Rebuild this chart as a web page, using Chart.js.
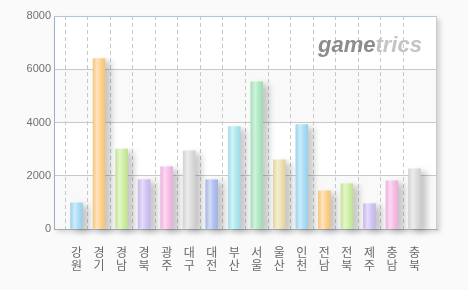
<!DOCTYPE html>
<html>
<head>
<meta charset="utf-8">
<script src="https://cdn.jsdelivr.net/npm/chart.js@4"></script>
<style>
	html, body { margin: 0; padding: 0; background: #fafafa; }
	#wrap { width: 468px; height: 290px; }
</style>
</head>
<body>
<div id="wrap"><canvas id="chart" width="468" height="290"></canvas></div>
<script>
// regions (labels are stacked one syllable per line)
var regions = ['강원', '경기', '경남', '경북', '광주', '대구', '대전', '부산', '서울', '울산', '인천', '전남', '전북', '제주', '충남', '충북'];
var values = [980, 6400, 3000, 1850, 2340, 2940, 1850, 3850, 5530, 2600, 3920, 1430, 1700, 950, 1810, 2260];
var yTicks = [0, 2000, 4000, 6000, 8000];

var palette = ['#a6dcf6', '#ffcf88', '#cdeea0', '#d2c2f6', '#f6bce6', '#dcdcdc', '#aebff0', '#ace8f0', '#ace8c2', '#eedfaa'];

// one empty slot each side gives the full-category margin of the original
var labels = [''].concat(regions, ['']);
var data = [null].concat(values, [null]);

function mix(hex, target, amt) {
	var n = parseInt(hex.slice(1), 16);
	var r = (n >> 16) & 255, g = (n >> 8) & 255, b = n & 255;
	r = Math.round(r + (target - r) * amt);
	g = Math.round(g + (target - g) * amt);
	b = Math.round(b + (target - b) * amt);
	return 'rgb(' + r + ',' + g + ',' + b + ')';
}

function barFill(ctx) {
	var chart = ctx.chart;
	var base = palette[(ctx.dataIndex - 1 + 10) % 10];
	if (!chart.chartArea) return base;
	var x = chart.scales.x.getPixelForValue(ctx.dataIndex);
	var g = chart.ctx.createLinearGradient(x - 6, 0, x + 6, 0);
	g.addColorStop(0, mix(base, 0, 0.04));
	g.addColorStop(0.35, mix(base, 255, 0.45));
	g.addColorStop(0.7, base);
	g.addColorStop(1, mix(base, 0, 0.06));
	return g;
}

var plotFrame = {
	id: 'plotFrame',
	beforeDraw: function(chart) {
		var c = chart.ctx, a = chart.chartArea, y = chart.scales.y;
		c.save();
		c.shadowColor = 'rgba(0,0,0,0.16)';
		c.shadowBlur = 5;
		c.shadowOffsetX = 3;
		c.shadowOffsetY = 3;
		c.fillStyle = '#ffffff';
		c.fillRect(a.left, a.top, a.right - a.left, a.bottom - a.top);
		c.restore();
		// alternating bands
		c.save();
		c.fillStyle = '#f9f9f9';
		for (var i = 0; i < yTicks.length - 1; i += 2) {
			var t = y.getPixelForValue(yTicks[i + 1]);
			var b = y.getPixelForValue(yTicks[i]);
			c.fillRect(a.left, t, a.right - a.left, b - t);
		}
		c.restore();
	},
	beforeDatasetsDraw: function(chart) {
		var c = chart.ctx;
		c.save();
		c.shadowColor = 'rgba(0,0,0,0.2)';
		c.shadowBlur = 6;
		c.shadowOffsetX = 6;
		c.shadowOffsetY = 3;
	},
	afterDatasetsDraw: function(chart) {
		chart.ctx.restore();
	},
	afterDraw: function(chart) {
		var c = chart.ctx, a = chart.chartArea;
		c.save();
		c.lineWidth = 1;
		c.strokeStyle = '#b4c8dc';
		c.beginPath();
		c.moveTo(a.left, a.top + 0.5);
		c.lineTo(a.right, a.top + 0.5);
		c.stroke();
		c.strokeStyle = '#c4ccd6';
		c.beginPath();
		c.moveTo(a.right - 0.5, a.top);
		c.lineTo(a.right - 0.5, a.bottom);
		c.stroke();
		// watermark
		c.font = 'italic bold 22px "Liberation Sans", Arial, sans-serif';
		c.textBaseline = 'alphabetic';
		c.fillStyle = '#8c8c8c';
		c.fillText('game', 318, 52);
		var w = c.measureText('game').width;
		c.fillStyle = '#c4c4c4';
		c.fillText('trics', 318 + w, 52);
		c.restore();
	}
};

new Chart(document.getElementById('chart'), {
	type: 'bar',
	data: {
		labels: labels,
		datasets: [{
			data: data,
			backgroundColor: barFill,
			borderWidth: 0,
			barThickness: 12,
			clip: false
		}]
	},
	options: {
		responsive: false,
		animation: false,
		events: [],
		layout: { padding: { top: 16, right: 31, left: 0, bottom: 0 } },
		plugins: { legend: { display: false }, tooltip: { enabled: false } },
		scales: {
			x: {
				offset: false,
				afterFit: function(s) { s.height = 61; },
				grid: {
					drawTicks: false,
					color: function(ctx) {
						return (ctx.index === 0 || ctx.index === labels.length - 1) ? 'rgba(0,0,0,0)' : '#c8c8c8';
					},
					lineWidth: 1
				},
				border: { display: true, color: '#a2aab4', dash: [4, 3], width: 1 },
				ticks: {
					autoSkip: false,
					maxRotation: 0,
					padding: 17,
					color: '#6a6a6a',
					font: { family: '"Noto Sans CJK KR", sans-serif', size: 12, lineHeight: 1.08 },
					callback: function(v, i) { return labels[i] ? labels[i].split('') : ''; }
				}
			},
			y: {
				min: 0,
				max: 8000,
				afterFit: function(s) { s.width = 54; },
				afterBuildTicks: function(s) { s.ticks = yTicks.map(function(v) { return { value: v }; }); },
				grid: { drawTicks: false, color: '#c8c8c8', lineWidth: 1 },
				border: { color: '#9fb0c2', width: 1 },
				ticks: {
					padding: 3,
					color: '#707070',
					font: { family: '"Liberation Sans", Arial, sans-serif', size: 11 },
					callback: function(v) { return String(v); }
				}
			}
		}
	},
	plugins: [plotFrame]
});
</script>
</body>
</html>
